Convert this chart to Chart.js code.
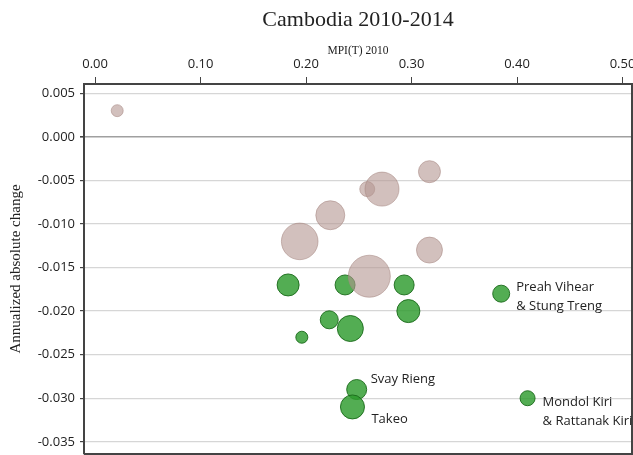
<!DOCTYPE html>
<html>
<head>
<meta charset="utf-8">
<script src="https://cdn.jsdelivr.net/npm/chart.js@4"></script>
<style>
  html, body { margin: 0; padding: 0; background: #fff; }
  #wrap { width: 633px; height: 455px; }
</style>
</head>
<body>
<div id="wrap"><canvas id="chart" width="633" height="455"></canvas></div>
<script>
/* ── dados ── */
const X_TICKS = [0, 0.1, 0.2, 0.3, 0.4, 0.5];
const Y_TICKS = [0.005, 0, -0.005, -0.010, -0.015, -0.020, -0.025, -0.030, -0.035];

// províncias sem destaque (rosa)
const PINK_X = [0.021, 0.317, 0.258, 0.272, 0.223, 0.194, 0.317, 0.260];
const PINK_Y = [0.003, -0.004, -0.006, -0.006, -0.009, -0.012, -0.013, -0.016];
const PINK_R = [6, 11, 7.5, 17, 14.5, 18.3, 13, 21];

// províncias com redução significativa (verde)
const GREEN_X = [0.183, 0.237, 0.293, 0.385, 0.297, 0.222, 0.242, 0.196, 0.248, 0.244, 0.410];
const GREEN_Y = [-0.017, -0.017, -0.017, -0.018, -0.020, -0.021, -0.022, -0.023, -0.029, -0.031, -0.030];
const GREEN_R = [11, 10, 10, 8.5, 11.5, 9, 13, 6, 10, 12, 7.5];

// rótulos ligados a pontos verdes (índice em GREEN_*)
const LABELS = [
  { i: 3,  lines: ['Preah Vihear', '& Stung Treng'],   dx: 15, dy: -7 },
  { i: 10, lines: ['Mondol Kiri', '& Rattanak Kiri'],  dx: 15, dy: 3.5 },
  { i: 8,  lines: ['Svay Rieng'],                      dx: 14, dy: -11 },
  { i: 9,  lines: ['Takeo'],                           dx: 19, dy: 11.5 },
];

const toPts = (xs, ys, rs) => xs.map((x, k) => ({ x, y: ys[k], r: rs[k] }));

const SANS  = '"Open Sans", sans-serif';
const SERIF = '"Liberation Serif", serif';

/* ── moldura + rótulos ── */
const framePlugin = {
  id: 'frame',
  afterDatasetsDraw(chart) {
    const { ctx, chartArea: a } = chart;
    ctx.save();
    ctx.strokeStyle = '#444';
    ctx.lineWidth = 2;
    ctx.beginPath();
    ctx.moveTo(a.left, a.top);
    ctx.lineTo(a.right, a.top);
    ctx.lineTo(a.right, a.bottom);
    ctx.lineTo(a.left, a.bottom);
    ctx.stroke();

    const meta = chart.getDatasetMeta(1);
    ctx.font = '13px ' + SANS;
    ctx.fillStyle = '#222';
    ctx.textAlign = 'left';
    ctx.textBaseline = 'middle';
    LABELS.forEach(l => {
      const p = meta.data[l.i];
      l.lines.forEach((t, k) => ctx.fillText(t, p.x + l.dx, p.y + l.dy + 1 + k * 18.5));
    });
    ctx.restore();
  }
};

new Chart(document.getElementById('chart'), {
  type: 'bubble',
  data: {
    datasets: [
      {
        label: 'outras',
        data: toPts(PINK_X, PINK_Y, PINK_R),
        backgroundColor: 'rgba(180,150,145,0.6)',
        borderColor: 'rgba(165,135,130,0.55)',
        borderWidth: 1,
      },
      {
        label: 'destaque',
        data: toPts(GREEN_X, GREEN_Y, GREEN_R),
        backgroundColor: 'rgba(45,155,45,0.82)',
        borderColor: 'rgba(25,105,25,0.9)',
        borderWidth: 1,
      },
    ],
  },
  options: {
    responsive: false,
    animation: false,
    events: [],
    layout: { autoPadding: false, padding: { top: 0, left: 0, right: 1, bottom: 1 } },
    plugins: {
      legend: { display: false },
      tooltip: { enabled: false },
      title: {
        display: true,
        text: 'Cambodia 2010-2014',
        fullSize: false,
        color: '#222',
        font: { family: SERIF, size: 22, weight: 'normal', lineHeight: 1.2 },
        padding: { top: 7, bottom: 0 },
      },
    },
    scales: {
      x: {
        type: 'linear',
        position: 'top',
        min: -0.0105,
        max: 0.509,
        afterBuildTicks: s => { s.ticks = X_TICKS.map(v => ({ value: v })); },
        afterFit: s => { s.height = 50.6; s.paddingLeft = 0; s.paddingRight = 0; },
        ticks: {
          color: '#222',
          font: { family: SANS, size: 13 },
          padding: 5,
          maxRotation: 0,
          autoSkip: false,
          callback: v => v.toFixed(2),
        },
        grid: { drawOnChartArea: false, drawTicks: true, tickLength: 7, tickColor: '#444', tickWidth: 1 },
        border: { display: true, color: '#444', width: 2 },
        title: {
          display: true,
          text: 'MPI(T) 2010',
          color: '#222',
          font: { family: SERIF, size: 11.5, lineHeight: 1.2 },
          padding: { top: 10.5, bottom: 0 },
        },
      },
      y: {
        type: 'linear',
        min: -0.0364,
        max: 0.00606,
        afterBuildTicks: s => { s.ticks = Y_TICKS.map(v => ({ value: v })); },
        afterFit: s => { s.width = 84; s.paddingTop = 0; s.paddingBottom = 0; },
        ticks: {
          color: '#222',
          font: { family: SANS, size: 13 },
          padding: 5,
          autoSkip: false,
          callback: v => v.toFixed(3),
        },
        grid: {
          drawOnChartArea: true,
          tickLength: 4,
          tickColor: '#444',
          color: c => (c.tick && Math.abs(c.tick.value) < 1e-9 ? '#a0a0a0' : '#d6d6d6'),
          lineWidth: c => (c.tick && Math.abs(c.tick.value) < 1e-9 ? 1.6 : 1.2),
        },
        border: { display: true, color: '#444', width: 2 },
        title: {
          display: true,
          text: 'Annualized absolute change',
          color: '#222',
          font: { family: SERIF, size: 15, lineHeight: 1.2 },
          padding: { top: 7, bottom: 0 },
        },
      },
    },
  },
  plugins: [framePlugin],
});
</script>
</body>
</html>
